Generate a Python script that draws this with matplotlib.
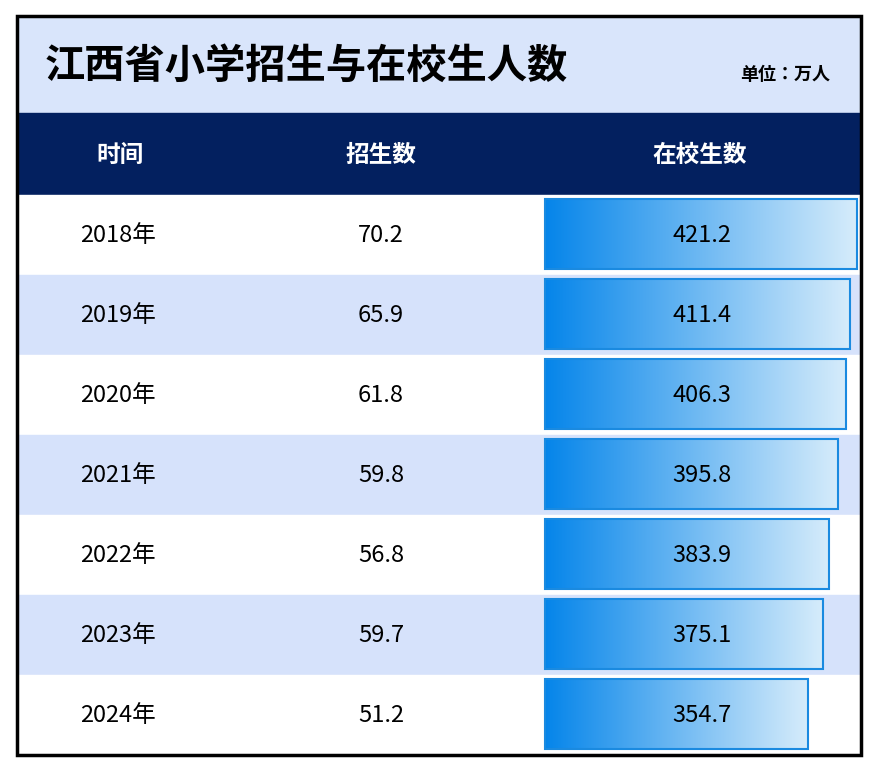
import matplotlib
matplotlib.use("Agg")
import matplotlib.pyplot as plt
from matplotlib import font_manager as fm
import numpy as np, glob
from matplotlib.colors import LinearSegmentedColormap
from matplotlib.patches import Rectangle

fam = 'DejaVu Sans'
for p in glob.glob('/usr/share/fonts/**/*CJK*', recursive=True) + glob.glob('/usr/local/share/fonts/**/*CJK*', recursive=True):
    try:
        fm.fontManager.addfont(p)
    except Exception:
        pass
names = {f.name for f in fm.fontManager.ttflist}
for n in ['Noto Sans CJK SC', 'Noto Sans CJK JP', 'Noto Sans CJK TC', 'Noto Sans CJK KR']:
    if n in names:
        fam = n
        break
plt.rcParams['font.family'] = [fam, 'DejaVu Sans']

title = "江西省小学招生与在校生人数"
unit = "单位：万人"
headers = ["时间", "招生数", "在校生数"]
years = ["2018年", "2019年", "2020年", "2021年", "2022年", "2023年", "2024年"]
enroll = [70.2, 65.9, 61.8, 59.8, 56.8, 59.7, 51.2]
students = [421.2, 411.4, 406.3, 395.8, 383.9, 375.1, 354.7]

W, H = 878, 772
fig = plt.figure(figsize=(W/100, H/100), dpi=100)
ax = fig.add_axes([0, 0, 1, 1])
ax.set_xlim(0, W); ax.set_ylim(H, 0); ax.axis('off')

L, R, T, B = 17, 861, 16, 755
ax.add_patch(Rectangle((L, T), R-L, 97, color='#d9e5fb', zorder=0))
ax.text(45, 66, title, fontsize=29, fontweight='bold', va='center', ha='left', color='black')
ax.text(830, 75, unit, fontsize=13, fontweight='bold', va='center', ha='right')
ax.add_patch(Rectangle((L, 113), R-L, 82, color='#03205f', zorder=0))
for x, h in zip([120, 381, 700], headers):
    ax.text(x, 155, h, color='white', fontsize=17, fontweight='bold', ha='center', va='center')

rh = 80
scale = 312/421.2
cmap = LinearSegmentedColormap.from_list('g', ['#0585ea', '#d6ecfb'])
grad = np.linspace(0, 1, 256).reshape(1, -1)
for i, (y, e, s) in enumerate(zip(years, enroll, students)):
    top = 195 + i*rh
    ax.add_patch(Rectangle((L, top), R-L, rh, color='white' if i % 2 == 0 else '#d6e2fb', zorder=0))
    ax.text(118, top+rh/2, y, fontsize=17, ha='center', va='center')
    ax.text(381, top+rh/2, f"{e:.1f}", fontsize=17, ha='center', va='center')
    x0 = 545; w = s*scale
    ax.imshow(grad, cmap=cmap, extent=(x0, x0+w, top+74, top+4), aspect='auto', zorder=1)
    ax.add_patch(Rectangle((x0, top+4), w, 70, fill=False, ec='#1a8ae0', lw=1.5, zorder=2))
    ax.text(702, top+rh/2, f"{s:.1f}", fontsize=17, ha='center', va='center', zorder=3)
ax.set_xlim(0, W); ax.set_ylim(H, 0)
ax.add_patch(Rectangle((L, T), R-L, B-T, fill=False, ec='black', lw=2.5, zorder=5))
fig.savefig("out.png", dpi=100)
